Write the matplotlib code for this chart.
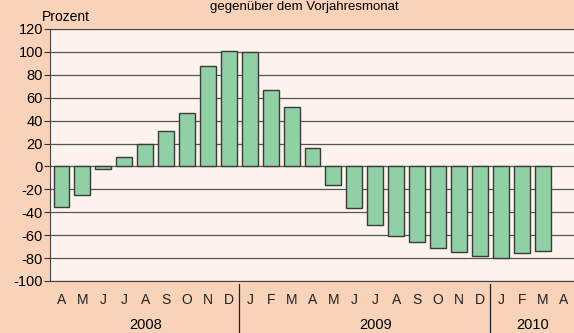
import numpy as np
import matplotlib.pyplot as plt

plt.rcParams['font.family'] = ['Liberation Sans', 'DejaVu Sans']
plt.rcParams['axes.unicode_minus'] = False

months = ["A", "M", "J", "J", "A", "S", "O", "N", "D",
          "J", "F", "M", "A", "M", "J", "J", "A", "S", "O", "N", "D",
          "J", "F", "M", "A"]
values = [-35, -24.5, -2, 8.5, 20, 31, 47, 87.5, 100.5,
          99.5, 67, 51.5, 16.5, -16, -36, -51.5, -61, -66, -71, -74.5, -78,
          -79.5, -75.5, -74]
years = ["2008", "2009", "2010"]
year_mid = [4, 15, 22.5]
year_breaks = [8.5, 20.5]

fig = plt.figure(figsize=(5.74, 3.33), dpi=100)
fig.patch.set_facecolor("#f8d3ba")
ax = fig.add_axes([50 / 574, 52 / 333, 1 - 50 / 574, 252 / 333])
ax.set_facecolor("#fdf3ec")

x = np.arange(len(values))
ax.bar(x, values, width=0.76, color="#8fd0a5", edgecolor="#3a3a3a", linewidth=1, zorder=3)

ax.set_ylim(-100, 120)
ax.set_xlim(-0.55, 24.5)
ax.set_yticks(np.arange(-100, 121, 20))
ax.yaxis.grid(True, color="#555555", linewidth=0.9, zorder=1)
ax.tick_params(axis="y", labelsize=10.5, length=4, color="#333333", pad=1)
ax.set_xticks(np.arange(len(months)))
ax.set_xticklabels(months, fontsize=10, color="#222222")
ax.tick_params(axis="x", length=0, pad=9)
ax.spines["right"].set_visible(False)
for s in ["left", "top", "bottom"]:
    ax.spines[s].set_color("#444444")

for m, yr in zip(year_mid, years):
    ax.text(m, -0.175, yr, transform=ax.get_xaxis_transform(), ha="center", va="center", fontsize=10.5)
for b in year_breaks:
    ax.plot([b, b], [-0.01, -0.23], transform=ax.get_xaxis_transform(), color="#222222",
            linewidth=0.9, clip_on=False)

fig.text(42 / 574, 1 - 17 / 333, "Prozent", fontsize=10, va="center")
fig.text(0.53, 0.998, "gegenüber dem Vorjahresmonat", fontsize=9.5, ha="center", va="top")

fig.savefig("out.png", dpi=100, facecolor=fig.get_facecolor())
